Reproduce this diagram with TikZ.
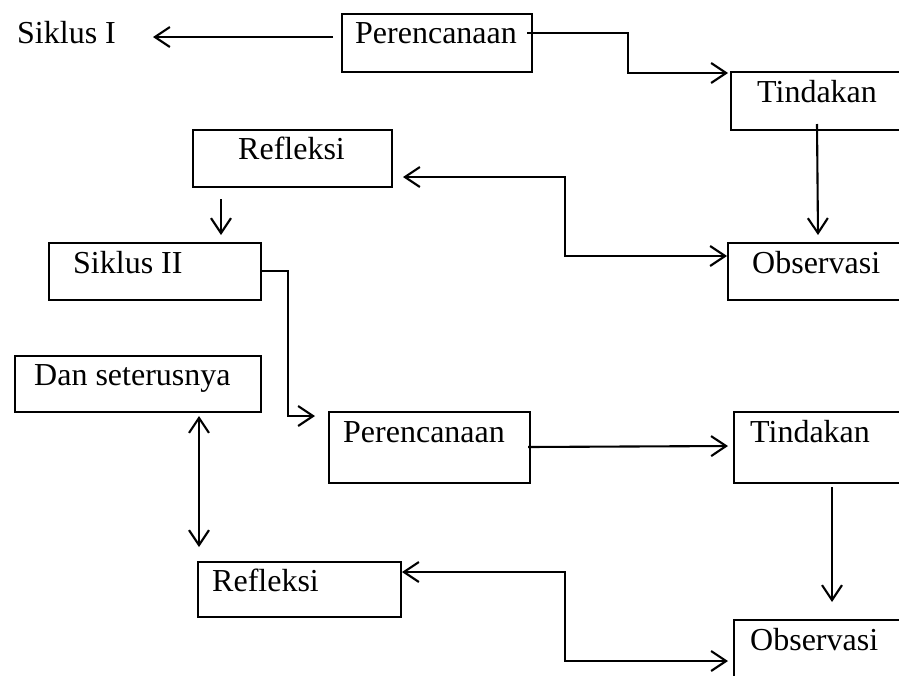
\documentclass[tikz,border=0pt]{standalone}
\usepackage{fontspec}
\setmainfont{Liberation Serif}
\usetikzlibrary{arrows.meta}
\begin{document}
\begin{tikzpicture}[x=1pt,y=-1pt,
  boxr/.style={draw=black,line width=2.1pt},
  txt/.style={anchor=base west,inner sep=0pt,font=\fontsize{32}{36}\selectfont},
  tip/.style={Straight Barb[length=15pt,width=20pt,line width=2.1pt]},
  conn/.style={line width=2.1pt,-{Straight Barb[length=15pt,width=20pt,line width=2.1pt]}},
  conn2/.style={line width=2.1pt,{Straight Barb[length=15pt,width=20pt,line width=2.1pt]}-{Straight Barb[length=15pt,width=20pt,line width=2.1pt]}}]
\useasboundingbox (0,0) rectangle (899,675);
\clip (0,0) rectangle (899,675);
\fill[white] (0,0) rectangle (899,675);
% boxes
\draw[boxr] (342,14) rectangle (532,72);
\draw[boxr] (731,72) rectangle (930,130);
\draw[boxr] (193,130) rectangle (392,187);
\draw[boxr] (728,243) rectangle (930,300);
\draw[boxr] (49,243) rectangle (261,300);
\draw[boxr] (15,356) rectangle (261,412);
\draw[boxr] (329,412) rectangle (530,483);
\draw[boxr] (734,412) rectangle (930,483);
\draw[boxr] (198,562) rectangle (401,617);
\draw[boxr] (734,620) rectangle (930,700);
% texts
\node[txt] (s1) at (17,43) {Siklus I};
\node[txt] (p1) at (355,43) {Perencanaan};
\node[txt] (t1) at (757,102) {Tindakan};
\node[txt] (r1) at (238,159) {Refleksi};
\node[txt] (o1) at (752,273) {Observasi};
\node[txt] (s2) at (73,273) {Siklus II};
\node[txt] (d) at (34,385) {Dan seterusnya};
\node[txt] (p2) at (343,442) {Perencanaan};
\node[txt] (t2) at (750,442) {Tindakan};
\node[txt] (r2) at (212,591) {Refleksi};
\node[txt] (o2) at (750,650) {Observasi};
% connector points
\coordinate (c1a) at (333,37);  \coordinate (c1b) at (153,37);
\coordinate (c2a) at (527,33);  \coordinate (c2b) at (728,73);
\coordinate (c3a) at (817,124); \coordinate (c3b) at (818,235);
\coordinate (c4a) at (403,177); \coordinate (c4b) at (727,256);
\coordinate (c5a) at (221,199); \coordinate (c5b) at (221,235);
\coordinate (c6a) at (261,271); \coordinate (c6b) at (315,416);
\coordinate (c7a) at (199,416); \coordinate (c7b) at (199,547);
\coordinate (c8a) at (528,447); \coordinate (c8b) at (728,446);
\coordinate (c9a) at (832,487); \coordinate (c9b) at (832,602);
\coordinate (c10a) at (402,572); \coordinate (c10b) at (728,661);
% connectors
\draw[conn] (c1a) -- (c1b);
\draw[conn] (c2a) -- (628,33) -- (628,73) -- (c2b);
\draw[conn] (c3a) -- (c3b);
\draw[conn2] (c4a) -- (565,177) -- (565,256) -- (c4b);
\draw[conn] (c5a) -- (c5b);
\draw[conn] (c6a) -- (288,271) -- (288,416) -- (c6b);
\draw[conn2] (c7a) -- (c7b);
\draw[conn] (c8a) -- (c8b);
\draw[conn] (c9a) -- (c9b);
\draw[conn2] (c10a) -- (565,572) -- (565,661) -- (c10b);
\end{tikzpicture}
\end{document}
